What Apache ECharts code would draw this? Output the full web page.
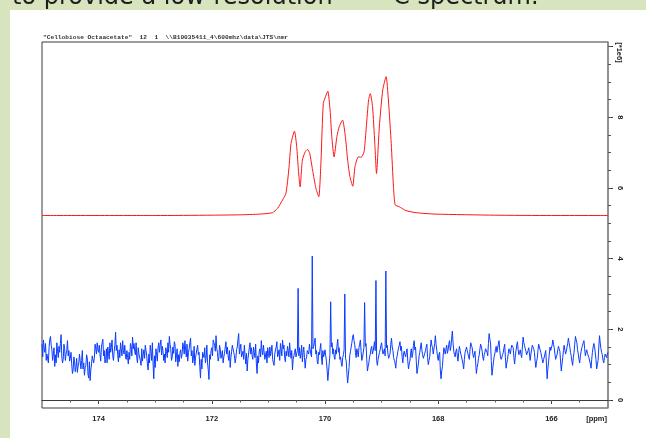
<!DOCTYPE html>
<html>
<head>
<meta charset="utf-8">
<script src="https://cdn.jsdelivr.net/npm/echarts@6/dist/echarts.min.js"></script>
<style>
  html, body { margin: 0; padding: 0; background: #d8e4bd; }
  #panel { position: absolute; left: 10px; top: 10px; width: 636px; height: 428px; background: #ffffff; }
  #chart { position: absolute; left: 0; top: 0; width: 646px; height: 438px; }
</style>
</head>
<body>
<div id="panel"></div>
<div id="chart"></div>
<script>
// ---- data ----
const headerText = 'to provide a low-resolution';
const headerSup = '13';
const headerTail = 'C spectrum.';
const titleText = '"Cellobiose Octaacetate"  12  1  \\\\B10035411_4\\600mhz\\data\\JTS\\nmr';
const xUnit = '[ppm]';
const yUnit = '[*1e6]';

const xLabelValues = [166, 168, 170, 172, 174];
const xMinorTickValues = [165.5, 166, 166.5, 167, 167.5, 168, 168.5, 169, 169.5, 170, 170.5, 171, 171.5, 172, 172.5, 173, 173.5, 174, 174.5];
const yLabelValues = [0, 2, 4, 6, 8];
const yMajorTickValues = [0, 2, 4, 6, 8, 10];
const yMinorTickValues = [0, 0.5, 1, 1.5, 2, 2.5, 3, 3.5, 4, 4.5, 5, 5.5, 6, 6.5, 7, 7.5, 8, 8.5, 9, 9.5, 10];

// low resolution trace (red): [ppm, intensity*1e6]
const redTrace = [
  [175.0, 5.22], [173.0, 5.22], [172.0, 5.23], [171.5, 5.24], [171.16, 5.26], [170.93, 5.30],
  [170.84, 5.42], [170.75, 5.66], [170.69, 5.85], [170.64, 6.51], [170.60, 7.26], [170.54, 7.61],
  [170.50, 7.17], [170.47, 6.51], [170.44, 6.03], [170.40, 6.79], [170.35, 7.02], [170.31, 7.09],
  [170.27, 6.98], [170.22, 6.51], [170.16, 5.99], [170.11, 5.75], [170.07, 6.79], [170.03, 8.39],
  [169.98, 8.63], [169.95, 8.74], [169.91, 8.20], [169.88, 7.45], [169.84, 6.88], [169.79, 7.45],
  [169.75, 7.73], [169.69, 7.92], [169.64, 7.45], [169.60, 6.79], [169.56, 6.32], [169.51, 6.05],
  [169.47, 6.60], [169.41, 6.88], [169.36, 6.87], [169.31, 7.02], [169.27, 7.73], [169.23, 8.49],
  [169.20, 8.67], [169.16, 8.30], [169.12, 7.26], [169.09, 6.41], [169.04, 7.73], [168.98, 8.77],
  [168.92, 9.15], [168.88, 8.49], [168.83, 7.26], [168.79, 6.03], [168.76, 5.52], [168.69, 5.47],
  [168.57, 5.36], [168.39, 5.30], [168.04, 5.26], [167.0, 5.23], [166.0, 5.22], [165.0, 5.22]
];

// high resolution trace (blue): sampled from 175 ppm downward every 0.0125 ppm.
// blueNoise holds the even samples, blueNoiseMid the odd samples in between.
const blueStart = 175.0;
const blueStep = 0.0125;
const blueNoise = [
  1.58,1.70,1.35,1.12,1.25,1.48,1.80,1.42,1.30,0.95,1.05,1.38,1.52,1.60,1.22,1.15,1.45,1.30,1.68,1.40,
  1.18,1.02,0.85,1.10,0.92,0.78,1.05,1.25,1.12,0.88,0.70,0.98,1.20,0.62,0.55,1.02,1.30,1.18,1.45,1.62,
  1.35,1.28,1.50,1.72,1.40,1.15,1.05,1.32,1.62,1.48,1.25,1.38,1.92,1.55,1.08,1.20,1.45,1.68,1.30,1.22,
  1.40,1.02,1.15,1.52,1.78,1.60,1.28,1.18,1.48,1.35,0.98,1.10,1.42,1.55,1.25,0.85,1.05,1.38,1.62,0.60,
  0.92,1.28,1.48,1.35,1.70,1.52,1.12,1.05,1.38,1.62,1.80,1.45,1.20,1.32,1.58,1.25,0.95,1.08,1.42,1.30,
  1.52,1.68,1.22,1.10,1.45,1.75,1.40,1.18,0.98,1.25,1.55,1.35,0.62,0.88,1.30,1.48,1.20,1.05,0.58,1.15,
  1.48,1.70,1.55,1.82,1.35,1.20,1.42,1.28,1.05,1.32,1.65,1.50,1.12,0.92,1.38,1.60,1.25,1.18,1.50,1.88,
  1.45,1.22,1.38,1.55,1.02,0.82,1.20,1.62,1.48,1.15,1.35,1.58,0.75,1.05,1.45,1.68,1.28,1.60,1.20,1.05,
  1.32,1.50,1.38,1.15,0.98,1.42,1.65,1.30,1.12,1.45,1.70,1.55,1.08,1.25,1.40,1.62,1.18,0.85,1.10,1.45,
  1.25,1.35,1.48,1.30,1.08,1.50,0.90,1.22,1.45,1.58,1.30,1.35,1.52,1.75,1.40,1.02,1.28,1.60,1.00,1.22,
  1.42,1.10,0.55,1.05,1.35,1.62,1.45,1.15,1.30,1.72,1.48,1.22,0.95,1.28,1.35,1.10,0.48,0.92,1.38,1.62,
  1.85,1.58,1.20,1.35,1.48,1.70,1.12,1.25,1.40,1.60,0.82,1.05,1.30,1.52,1.38,1.65,1.28,0.98,1.20,1.42,
  1.62,1.30,1.45,1.35,1.55,1.18,1.32,1.75,1.40,1.12,0.90,1.25,1.48,1.65,1.52,1.05,1.38,1.22,1.45,0.88,
  1.10,1.45,1.30,1.68,1.50,0.75,1.02,1.35,1.62,1.28,1.15,1.40,1.58,1.00,1.22,1.70,1.48,1.25,1.82,1.40,
  1.12,1.35,0.60,0.95,1.48,1.30,1.55,1.42,1.68,1.50,1.95,1.38,1.22,1.45,1.10,1.52,1.30,1.18,0.88,1.35,
  1.50,1.32,1.15,1.62,1.48,1.20,1.38,0.75,1.02,1.28,1.58,1.40,1.12,1.35,1.50,1.25,1.88,1.62,0.70,1.05,
  1.30,1.52,1.40,1.68,1.22,1.10,1.35,1.58,0.90,1.15,1.45,1.30,1.55,1.48,1.02,1.40,1.65,1.28,1.42,1.20,
  1.78,1.55,1.38,1.25,1.48,1.12,1.42,1.60,1.35,0.92,1.18,1.58,1.45,1.30,1.05,1.22,1.40,0.60,1.08,1.50,
  1.35,1.70,1.48,1.15,1.28,1.52,1.38,0.82,1.20,1.55,1.30,1.42,1.75,1.50,1.25,0.98,1.35,1.80,1.62,1.30,
  1.05,1.38,1.55,1.68,1.25,1.42,1.30,1.15,0.90,1.35,1.60,1.48,0.88,1.12,1.82,1.45,1.28,1.05,1.30,1.20,
  1.35
];
const blueNoiseMid = [
  1.22,1.48,1.60,1.30,1.05,1.72,1.55,1.12,1.48,1.28,1.62,1.20,1.35,1.85,1.05,1.58,1.12,1.40,1.25,1.10,
  1.35,0.75,1.22,0.80,1.18,0.95,1.30,0.88,1.40,1.05,0.92,1.28,0.72,1.08,0.85,1.25,1.05,1.58,1.30,1.42,
  1.55,1.10,1.62,1.25,1.05,1.45,1.50,1.15,1.35,1.70,1.12,1.55,1.40,1.28,1.42,1.62,1.25,1.40,1.55,1.15,
  1.20,1.35,1.60,1.25,1.45,1.38,1.62,1.05,1.30,1.12,1.45,1.28,1.18,1.40,1.02,1.30,1.55,1.12,1.02,1.25,
  1.45,1.10,1.62,1.55,1.28,1.40,1.30,1.48,1.20,1.35,1.58,1.12,1.50,1.65,1.08,1.45,1.28,1.35,1.18,1.62,
  1.30,1.42,1.58,1.35,1.62,1.25,1.05,1.52,1.20,1.45,1.28,0.95,1.15,1.35,1.20,1.05,1.55,0.85,1.28,1.40,
  1.25,1.62,1.38,1.45,1.10,1.55,1.18,1.40,1.22,1.50,1.30,1.25,1.40,1.20,1.55,1.35,1.05,1.42,1.72,1.30,
  1.58,1.30,1.15,1.28,1.32,1.15,1.48,1.30,1.25,1.50,1.20,1.02,1.25,1.38,1.22,1.40,1.55,1.15,1.38,1.48,
  1.20,1.25,1.55,1.05,1.30,1.50,1.22,1.42,1.60,1.25,1.45,1.20,1.38,1.52,1.22,1.35,1.40,1.15,1.35,1.22,
  1.40,1.25,1.18,1.55,1.35,1.20,1.15,1.40,1.30,1.42,1.22,1.45,1.62,1.30,1.10,1.35,1.45,1.22,1.40,1.30,
  1.25,0.85,0.80,1.28,1.50,1.30,1.22,1.42,1.55,1.35,1.15,1.05,1.20,1.42,1.18,0.75,0.70,1.25,1.50,1.78,
  1.68,1.35,1.45,1.22,1.58,1.38,1.20,1.48,1.52,1.15,0.95,1.22,1.45,1.30,1.52,1.40,1.12,1.15,1.35,1.55,
  1.42,1.38,1.25,1.48,1.30,1.25,1.58,1.50,1.20,1.05,1.15,1.38,1.55,1.40,1.22,1.30,1.28,1.35,1.10,1.02,
  1.32,1.20,1.55,1.42,1.10,0.88,1.25,1.50,1.40,1.18,1.32,1.50,1.20,1.12,1.48,1.55,1.30,1.60,1.58,1.25,
  1.28,0.85,0.82,1.25,1.38,1.45,1.32,1.58,1.40,1.75,1.62,1.28,1.38,1.25,1.35,1.40,1.22,1.02,1.15,1.42,
  1.40,1.22,1.42,1.55,1.30,1.28,1.05,0.92,1.18,1.45,1.50,1.22,1.28,1.45,1.35,1.60,1.72,1.12,0.88,1.22,
  1.45,1.35,1.58,1.40,1.15,1.28,1.48,1.20,1.05,1.32,1.38,1.45,1.50,1.20,1.25,1.55,1.42,1.35,1.28,1.50,
  1.62,1.45,1.28,1.40,1.30,1.30,1.55,1.45,1.10,1.08,1.40,1.50,1.35,1.15,1.15,1.32,1.02,0.88,1.30,1.40,
  1.55,1.58,1.30,1.22,1.42,1.45,1.08,1.02,1.40,1.42,1.38,1.60,1.62,1.35,1.10,1.20,1.58,1.70,1.42,1.15,
  1.25,1.48,1.62,1.45,1.35,1.32,1.20,1.02,1.15,1.50,1.52,1.15,1.00,1.50,1.62,1.35,1.12,1.20,1.25,1.30
];
// sharp carbonyl lines in the blue trace: [ppm, intensity*1e6]
const bluePeaks = [
  [170.475, 3.16], [170.225, 4.07], [169.900, 2.78], [169.650, 3.00],
  [169.300, 2.76], [169.100, 3.38], [168.925, 3.65]
];

// ---- build series data ----
const blueSamples = [];
blueNoise.forEach((v, i) => {
  blueSamples.push(v);
  if (i < blueNoiseMid.length) blueSamples.push(blueNoiseMid[i]);
});
const blueData = blueSamples.map((v, i) => [+(blueStart - i * blueStep).toFixed(4), v]);
bluePeaks.forEach(([ppm, h]) => {
  const idx = Math.round((blueStart - ppm) / blueStep);
  if (idx >= 0 && idx < blueData.length) blueData[idx] = [ppm, h];
});

const labelFont = { fontFamily: 'Liberation Sans, Arial, sans-serif', fontWeight: 'bold', fontSize: 7.5, color: '#222' };

const chart = echarts.init(document.getElementById('chart'), null, { renderer: 'canvas' });
chart.setOption({
  animation: false,
  backgroundColor: 'transparent',
  grid: { left: 42, right: 38, top: 42, bottom: 30, show: true, borderColor: '#3a3a3a', borderWidth: 1, backgroundColor: 'transparent' },
  xAxis: [
    {
      type: 'value', min: 165, max: 175, inverse: true, position: 'bottom',
      axisLine: { show: true, lineStyle: { color: '#3a3a3a', width: 1 } },
      axisTick: { show: true, customValues: xLabelValues, length: 4, lineStyle: { color: '#333' } },
      axisLabel: Object.assign({ show: true, customValues: xLabelValues, margin: 7 }, labelFont),
      splitLine: { show: false }
    },
    {
      type: 'value', min: 165, max: 175, inverse: true, position: 'bottom',
      axisLine: { show: false },
      axisTick: { show: true, customValues: xMinorTickValues, length: 2.5, lineStyle: { color: '#555' } },
      axisLabel: { show: false },
      splitLine: { show: false }
    }
  ],
  yAxis: [
    {
      type: 'value', min: -0.226, max: 10.13, position: 'right',
      axisLine: { show: true, lineStyle: { color: '#8c8c8c', width: 1.5 } },
      axisTick: { show: true, customValues: yMajorTickValues, length: 5, lineStyle: { color: '#333' } },
      axisLabel: Object.assign({ show: true, customValues: yLabelValues, rotate: -90, margin: 8 }, labelFont),
      splitLine: { show: false }
    },
    {
      type: 'value', min: -0.226, max: 10.13, position: 'right',
      axisLine: { show: false },
      axisTick: { show: true, customValues: yMinorTickValues, length: 3, lineStyle: { color: '#555' } },
      axisLabel: { show: false },
      splitLine: { show: false }
    }
  ],
  graphic: [
    { type: 'text', left: 12, top: -14, style: { text: headerText, font: '24px "DejaVu Sans", Verdana, sans-serif', fill: '#1e1e1e' } },
    { type: 'text', left: 352, top: -18, style: { text: headerSup, font: '15px "DejaVu Sans", Verdana, sans-serif', fill: '#1e1e1e' } },
    { type: 'text', left: 393, top: -14, style: { text: headerTail, font: '24px "DejaVu Sans", Verdana, sans-serif', fill: '#1e1e1e' } },
    { type: 'text', left: 43, top: 34, style: { text: titleText, font: 'bold 6.2px "Liberation Mono", "Courier New", monospace', fill: '#333' } },
    { type: 'text', right: 39, top: 415, style: { text: xUnit, font: 'bold 7.5px "Liberation Sans", Arial, sans-serif', fill: '#222' } },
    { type: 'text', x: 619, y: 52.5, rotation: -Math.PI / 2, style: { text: yUnit, font: 'bold 7.5px "Liberation Sans", Arial, sans-serif', fill: '#222', align: 'center', verticalAlign: 'middle' } }
  ],
  series: [
    {
      name: 'low resolution', type: 'line', xAxisIndex: 0, yAxisIndex: 0,
      data: redTrace, showSymbol: false, smooth: 0.2,
      lineStyle: { color: '#ff1414', width: 1 }, z: 3
    },
    {
      name: 'high resolution', type: 'line', xAxisIndex: 0, yAxisIndex: 0,
      data: blueData, showSymbol: false,
      lineStyle: { color: '#0a3cff', width: 1 }, z: 2
    }
  ]
});
</script>
</body>
</html>
